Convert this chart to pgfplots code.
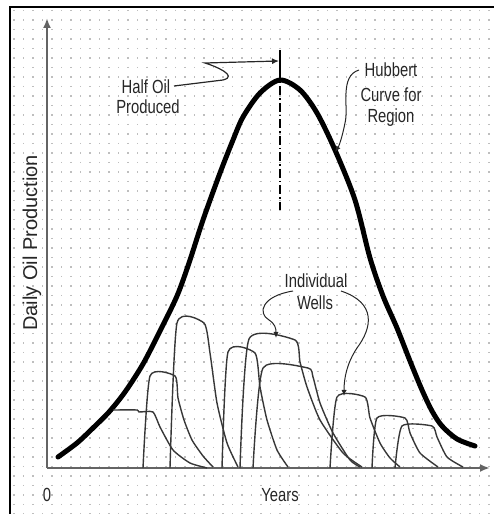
\documentclass[border=0pt]{standalone}
\usepackage{pgfplots}
\pgfplotsset{compat=1.18}
\usepackage{fontspec}
\setmainfont{Liberation Sans}[FakeStretch=0.78]
\newfontfamily\ylabfont{Liberation Sans}
\usetikzlibrary{arrows.meta}
\definecolor{wellgray}{RGB}{55,55,55}
\definecolor{axisgray}{RGB}{100,100,100}
\definecolor{dotgray}{RGB}{190,190,190}
\tikzset{lbl/.style={font=\fontsize{19}{21}\selectfont, text=black!85, inner sep=0pt}}
\begin{document}
\begin{tikzpicture}[x=1pt,y=1pt]
\useasboundingbox (-47,-46) rectangle (447,468);
% dotted paper
\foreach \i in {0,...,51}
  \draw[dotgray, line width=1.1pt, dash pattern=on 1.1pt off 8.4pt] (-33+\i*9.5,458) -- (-33+\i*9.5,-46);
% frame
\draw[line width=1.6pt] (-37,-50) -- (-37,461) -- (450,461);

\begin{axis}[
    at={(0pt,0pt)}, anchor=south west,
    scale only axis, width=443pt, height=450pt,
    xmin=0, xmax=443, ymin=0, ymax=450,
    axis lines=left,
    axis line style={axisgray, line width=2.2pt, -{Latex[length=10pt,width=8pt]}},
    xtick=\empty, ytick=\empty,
    clip=false,
  ]
  % Hubbert curve
  \addplot[black, line width=5pt, line cap=round, smooth, tension=0.5] coordinates {
    (11,11) (30,25) (46,40) (62,56) (78,76) (96,104) (113,137) (130,172)
    (142,205) (156,248) (173,295) (186,328) (196,351) (213,375) (233,388)
    (253,378) (270,355) (288,318) (308,268) (323,210) (336,172) (350,140)
    (363,107) (375,78) (385,57) (395,42) (410,29) (428,22)
  };
  % individual wells
  \pgfplotsset{well/.style={wellgray, line width=1.4pt, smooth, tension=0.35}}
  \addplot[well] coordinates {(66,58) (90,58) (92,56) (106,56) (113,41) (126,18) (143,5) (160,0)};
  \addplot[well] coordinates {(96,0) (103,92) (128,92) (131,70) (137,48) (145,28) (156,12) (166,1)};
  \addplot[well] coordinates {(123,0) (130,145) (157,145) (163,115) (170,65) (180,25) (191,1)};
  \addplot[well] coordinates {(175,0) (181,116) (208,115) (213,81) (220,48) (230,18) (241,1)};
  \addplot[well] coordinates {(193,0) (202,129) (248,128) (253,106) (260,81) (273,48) (296,15) (315,1)};
  \addplot[well] coordinates {(206,0) (216,100) (261,100) (266,91) (273,65) (286,35) (303,8) (313,1)};
  \addplot[well] coordinates {(283,0) (290,71) (318,71) (323,50) (333,25) (343,10) (353,1)};
  \addplot[well] coordinates {(325,0) (330,50) (358,50) (363,35) (373,15) (391,1)};
  \addplot[well] coordinates {(348,0) (355,42) (385,42) (390,31) (400,11) (416,1)};

  % half oil marker
  \draw[black, line width=1.5pt, dash pattern=on 9pt off 3pt on 1.5pt off 3pt] (233,398) -- (233,258);
  \draw[black, line width=1.5pt] (233,398) -- (233,418);
  \draw[black!85, line width=1.2pt, -{Latex[length=7pt,width=6pt]}]
    (127,382) -- (176,388) .. controls (192,392) and (168,402) .. (158,405) -- (232,407);
  \node[lbl] at (99,381) {Half Oil};
  \node[lbl] at (101,361) {Produced};

  % Hubbert label
  \node[lbl] at (344,398) {Hubbert};
  \node[lbl] at (344,373) {Curve for};
  \node[lbl] at (344,350) {Region};
  \draw[black!85, line width=1pt, -{Latex[length=6pt,width=5pt]}]
    (312,398) .. controls (292,392) and (302,360) .. (298,345) .. controls (295,330) and (292,322) .. (288,316);

  % wells label
  \node[lbl] at (269,187) {Individual};
  \node[lbl] at (268,165) {Wells};
  \draw[black!85, line width=1pt, -{Latex[length=6pt,width=5pt]}]
    (246,177) .. controls (215,172) and (210,155) .. (222,148) .. controls (228,144) and (229,140) .. (229,130);
  \draw[black!85, line width=1pt, -{Latex[length=6pt,width=5pt]}]
    (294,177) .. controls (330,165) and (325,140) .. (310,120) .. controls (300,105) and (297,90) .. (297,72);

  % axis texts
  \node[lbl] at (233,-27) {Years};
  \node[lbl] at (0,-27) {0};
  \node[lbl, rotate=90, font=\ylabfont\fontsize{20}{22}\selectfont] at (-15,225) {Daily Oil Production};
\end{axis}
\end{tikzpicture}
\end{document}
